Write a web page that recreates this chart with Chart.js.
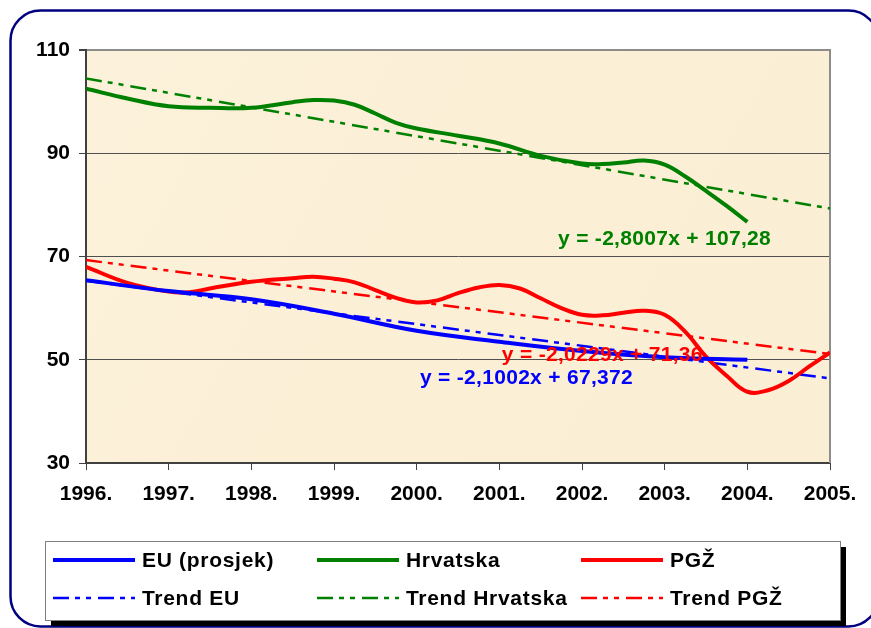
<!DOCTYPE html>
<html>
<head>
<meta charset="utf-8">
<script src="https://cdn.jsdelivr.net/npm/chart.js@4/dist/chart.umd.min.js"></script>
<style>
  html, body { margin: 0; padding: 0; background: #fff; }
  canvas { display: block; }
</style>
</head>
<body>
<canvas id="c" width="871" height="628"></canvas>
<script>
// podaci očitani sa slike
const yearLabels = ['1996.', '1997.', '1998.', '1999.', '2000.', '2001.', '2002.', '2003.', '2004.', '2005.'];
const yTicks = [30, 50, 70, 90, 110];

const euX = [1996, 1997, 1998, 1999, 2000, 2001, 2002, 2003, 2004];
const euY = [65.4, 63.3, 61.7, 58.9, 55.6, 53.5, 51.7, 50.5, 50.0];

const hrvX = [1996, 1996.5, 1997, 1997.5, 1998, 1998.5, 1998.75, 1999, 1999.25, 1999.5, 1999.75, 2000,
              2000.5, 2001, 2001.5, 2002, 2002.25, 2002.5, 2002.75, 2003, 2003.25, 2003.5, 2003.75, 2004];
const hrvY = [102.5, 100.6, 99.1, 98.8, 98.8, 99.9, 100.3, 100.2, 99.4, 97.7, 95.9, 94.8,
              93.4, 91.9, 89.5, 88.0, 87.9, 88.2, 88.6, 87.8, 85.5, 82.7, 79.8, 76.7];

const pgzX = [1996, 1996.5, 1997, 1997.25, 1997.5, 1998, 1998.5, 1998.75, 1999, 1999.25, 1999.5, 1999.75,
              2000, 2000.25, 2000.5, 2000.75, 2001, 2001.25, 2001.5, 2001.75, 2002, 2002.25, 2002.5, 2002.75,
              2003, 2003.25, 2003.5, 2003.75, 2004, 2004.25, 2004.5, 2004.75, 2005];
const pgzY = [68.0, 64.9, 63.2, 63.1, 63.8, 65.1, 65.8, 66.1, 65.7, 65.0, 63.5, 62.0,
              61.1, 61.5, 62.9, 64.0, 64.5, 63.8, 61.9, 60.0, 58.7, 58.6, 59.1, 59.5,
              58.7, 55.4, 50.6, 46.9, 43.8, 44.1, 45.9, 48.7, 51.4];

// trend linije: krajnje točke 1996. i 2005.
const trendX = [1996, 2005];
const trendEU = [65.3, 46.4];
const trendHrv = [104.5, 79.3];
const trendPgz = [69.3, 51.1];

const equations = [
  { text: 'y = -2,8007x + 107,28', x: 2001.71, y: 73.4, color: '#008000' },
  { text: 'y = -2,0229x + 71,36', x: 2001.03, y: 50.9, color: '#FF0000' },
  { text: 'y = -2,1002x + 67,372', x: 2000.04, y: 46.5, color: '#0000FF' }
];

const FONT = '"Liberation Sans", Arial, sans-serif';
const tickFont = { family: FONT, size: 21, weight: 'bold' };
const trendDash = [16, 6, 5, 6, 5, 7];

const pts = (xs, ys) => xs.map((x, i) => ({ x: x, y: ys[i] }));

function solid(label, xs, ys, color) {
  return { label, data: pts(xs, ys), borderColor: color, borderWidth: 4, tension: 0.4,
           pointRadius: 0, fill: false };
}
function trend(label, ys, color) {
  return { label, data: pts(trendX, ys), borderColor: color, borderWidth: 2.5, borderDash: trendDash,
           tension: 0, pointRadius: 0, fill: false };
}

// pozadina, okvir, legenda i jednadžbe
const decor = {
  id: 'decor',
  beforeDraw(chart) {
    const ctx = chart.ctx, a = chart.chartArea;
    ctx.save();
    ctx.fillStyle = '#fff';
    ctx.fillRect(0, 0, chart.width, chart.height);
    ctx.strokeStyle = '#000080';
    ctx.lineWidth = 2.5;
    ctx.beginPath();
    ctx.roundRect(10.5, 10.5, 868, 616, 30);
    ctx.stroke();
    const g = ctx.createLinearGradient(a.left, a.top, a.right, a.bottom);
    g.addColorStop(0, '#FCF1DA');
    g.addColorStop(0.5, '#FBEFD6');
    g.addColorStop(1, '#FAEED5');
    ctx.fillStyle = g;
    ctx.fillRect(a.left, a.top, a.right - a.left, a.bottom - a.top);
    ctx.restore();
  },
  beforeDatasetsDraw(chart) {
    const ctx = chart.ctx, a = chart.chartArea;
    ctx.save();
    ctx.strokeStyle = '#8c8c8c';
    ctx.lineWidth = 2;
    ctx.beginPath();
    ctx.moveTo(a.right, a.top - 1);
    ctx.lineTo(a.right, a.bottom);
    ctx.stroke();
    ctx.restore();
  },
  afterDraw(chart) {
    const ctx = chart.ctx, xs = chart.scales.x, ys = chart.scales.y;
    ctx.save();
    ctx.font = 'bold 21px ' + FONT;
    ctx.textBaseline = 'middle';
    ctx.textAlign = 'left';
    ctx.letterSpacing = '0.3px';
    equations.forEach(e => {
      ctx.fillStyle = e.color;
      ctx.fillText(e.text, xs.getPixelForValue(e.x), ys.getPixelForValue(e.y));
    });

    // legenda
    const L = 45, T = 541, W = 795, H = 79;
    ctx.fillStyle = '#000';
    ctx.fillRect(L + 6, T + 6, W, H);
    ctx.fillStyle = '#fff';
    ctx.fillRect(L, T, W, H);
    ctx.strokeStyle = '#808080';
    ctx.lineWidth = 1;
    ctx.strokeRect(L + 0.5, T + 0.5, W, H);

    const colX = [53, 317, 581];
    const rowY = [560, 598];
    ctx.letterSpacing = '0.7px';
    chart.data.datasets.forEach((ds, i) => {
      const cx = colX[i % 3], cy = rowY[Math.floor(i / 3)];
      ctx.strokeStyle = ds.borderColor;
      ctx.lineWidth = ds.borderWidth;
      ctx.setLineDash(ds.borderDash || []);
      ctx.beginPath();
      ctx.moveTo(cx, cy);
      ctx.lineTo(cx + 82, cy);
      ctx.stroke();
      ctx.setLineDash([]);
      ctx.fillStyle = '#000';
      ctx.fillText(ds.label, cx + 89, cy + 1);
    });
    ctx.restore();
  }
};

new Chart(document.getElementById('c'), {
  type: 'line',
  data: {
    datasets: [
      solid('EU (prosjek)', euX, euY, '#0000FF'),
      solid('Hrvatska', hrvX, hrvY, '#008000'),
      solid('PGŽ', pgzX, pgzY, '#FF0000'),
      trend('Trend EU', trendEU, '#0000FF'),
      trend('Trend Hrvatska', trendHrv, '#008000'),
      trend('Trend PGŽ', trendPgz, '#FF0000')
    ]
  },
  options: {
    responsive: false,
    animation: false,
    devicePixelRatio: 1,
    layout: { padding: { left: 0, right: 41, top: 50, bottom: 0 } },
    plugins: { legend: { display: false }, tooltip: { enabled: false } },
    scales: {
      x: {
        type: 'linear', min: 1996, max: 2005,
        afterBuildTicks: s => { s.ticks = yearLabels.map((_, i) => ({ value: 1996 + i })); },
        ticks: { callback: (v, i) => yearLabels[i], font: tickFont, color: '#000', padding: 12,
                 maxRotation: 0, autoSkip: false },
        grid: { drawOnChartArea: false, drawTicks: true, tickLength: 7, color: '#404040' },
        border: { color: '#404040', width: 2 },
        afterFit: s => { s.height = 165; }
      },
      y: {
        min: 30, max: 110,
        afterBuildTicks: s => { s.ticks = yTicks.map(v => ({ value: v })); },
        ticks: { font: tickFont, color: '#000', padding: 9 },
        grid: {
          color: c => (c.tick && c.tick.value === 110) ? '#8c8c8c' : '#505050',
          lineWidth: c => (c.tick && c.tick.value === 110) ? 2 : 1,
          tickColor: '#404040', tickLength: 7
        },
        border: { color: '#404040', width: 2 },
        afterFit: s => { s.width = 86; }
      }
    }
  },
  plugins: [decor]
});
</script>
</body>
</html>
